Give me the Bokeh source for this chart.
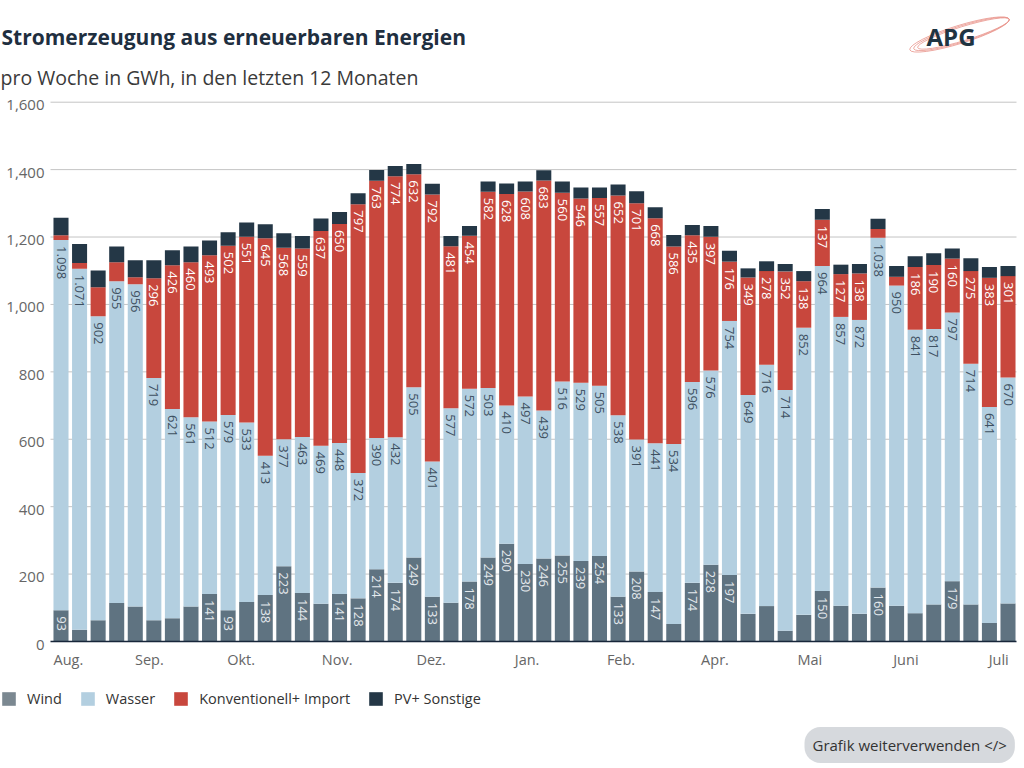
import numpy as np
from bokeh.plotting import figure
from bokeh.models import ColumnDataSource, Legend, LegendItem, Label
from bokeh.core.properties import value
from bokeh.embed import file_html
from bokeh.resources import INLINE

# ---------------- data ----------------
title_text = "Stromerzeugung aus erneuerbaren Energien"
subtitle_text = "pro Woche in GWh, in den letzten 12 Monaten"
series_names = ["Wind", "Wasser", "Konventionell+ Import", "PV+ Sonstige"]

wind = [93, 35, 63, 114, 104, 63, 69, 104, 141, 93, 117, 138, 223, 144, 112, 141, 128, 214, 174, 249,
        133, 115, 178, 249, 290, 230, 246, 255, 239, 254, 133, 208, 147, 52, 174, 228, 197, 82, 105, 32,
        79, 150, 106, 82, 160, 106, 84, 110, 179, 110, 55, 113]
wasser = [1098, 1071, 902, 955, 956, 719, 621, 561, 512, 579, 533, 413, 377, 463, 469, 448, 372, 390, 432, 505,
          401, 577, 572, 503, 410, 497, 439, 516, 529, 505, 538, 391, 441, 534, 596, 576, 754, 649, 716, 714,
          852, 964, 857, 872, 1038, 950, 841, 817, 797, 714, 641, 670]
konv = [14, 17, 86, 56, 21, 296, 426, 460, 493, 502, 551, 645, 568, 559, 637, 650, 797, 763, 774, 632,
        792, 481, 454, 582, 628, 608, 683, 560, 546, 557, 652, 701, 668, 586, 435, 397, 176, 349, 278, 352,
        138, 137, 127, 138, 26, 26, 186, 190, 160, 275, 383, 301]
pv = [52, 56, 50, 47, 50, 53, 45, 47, 44, 40, 42, 42, 43, 37, 37, 35, 33, 32, 31, 31,
      32, 30, 29, 31, 31, 30, 30, 34, 33, 31, 33, 36, 32, 34, 31, 32, 32, 27, 29, 22,
      30, 32, 28, 28, 30, 32, 32, 35, 30, 38, 32, 30]

month_labels = ["Aug.", "Sep.", "Okt.", "Nov.", "Dez.", "Jan.", "Feb.", "Apr.", "Mai", "Juni", "Juli"]
month_tick_at = [0.40, 4.76, 9.70, 14.87, 19.93, 25.10, 30.16, 35.22, 40.33, 45.50, 50.50]
y_ticks = [0, 200, 400, 600, 800, 1000, 1200, 1400, 1600]

# ---------------- style ----------------
FONT = "Open Sans"
C_WIND, C_WASSER, C_KONV, C_PV = "#5f7381", "#b3cfe0", "#c8473d", "#243746"
LEG_COLORS = ["#7b8891", "#b3cfe0", "#c8473d", "#243746"]
GRID = "#c4c4c4"
TICK_TXT = "#666666"

W, H = 1024, 768
n = len(wind)
# plot-area geometry (page pixels): first bar centre, last bar centre, zero line, 1600 line
X0_PX, XN_PX = 60.5, 1007.5
Y0_PX, Y1600_PX = 641.0, 101.7
PX = (XN_PX - X0_PX) / (n - 1)          # px per week
PY = (Y0_PX - Y1600_PX) / 1600.0        # px per GWh


def X(px):
    return (px - X0_PX) / PX


def Y(py):
    return (Y0_PX - py) / PY


p = figure(width=W, height=H, output_backend="svg", toolbar_location=None,
           x_range=(X(0), X(W)), y_range=(Y(H), Y(0)),
           min_border_left=0, min_border_right=0, min_border_top=0, min_border_bottom=0)
p.axis.visible = False
p.grid.visible = False
p.outline_line_color = None
p.background_fill_color = "white"
p.border_fill_color = "white"

x = list(range(n))
x_lo, x_hi = X(50), X(1016)

# gridlines (value axis)
g_ticks = [t for t in y_ticks if t > 0]
p.segment(x0=[x_lo] * len(g_ticks), x1=[x_hi] * len(g_ticks), y0=g_ticks, y1=g_ticks,
          line_color=GRID, line_width=1)

# bars
src = ColumnDataSource(dict(x=x, wind=wind, wasser=wasser, konv=konv, pv=pv))
p.vbar_stack(["wind", "wasser", "konv", "pv"], x="x", width=0.81, source=src,
             fill_color=[C_WIND, C_WASSER, C_KONV, C_PV], line_color=None)

# category axis line
p.segment(x0=[x_lo], x1=[x_hi], y0=[0], y1=[0], line_color="#17263a", line_width=1.5)

# value axis tick labels (sit a few px below their gridline)
lab_drop = 3 / PY
p.text(x=[X(44)] * len(y_ticks), y=[t - lab_drop for t in y_ticks], text=[f"{t:,}" for t in y_ticks],
       text_align="right", text_baseline="middle", text_color=TICK_TXT,
       text_font=value(FONT), text_font_size="15px")

# category axis tick labels
p.text(x=month_tick_at, y=[Y(649)] * len(month_tick_at), text=month_labels,
       text_align="center", text_baseline="top", text_color=TICK_TXT,
       text_font=value(FONT), text_font_size="14.5px")


def fmt(v):
    return f"{v:,}".replace(",", ".")


pad = 6 / PY


def add_labels(vals, tops, color, show):
    idx = [i for i in range(n) if show(vals[i])]
    s = ColumnDataSource(dict(x=idx, y=[tops[i] - pad for i in idx], t=[fmt(vals[i]) for i in idx]))
    p.text(x="x", y="y", text="t", source=s, angle=-np.pi / 2, text_align="left",
           text_baseline="middle", text_color=color, text_font=value(FONT), text_font_size="13px")


top_wind = [wind[i] for i in range(n)]
top_wasser = [wind[i] + wasser[i] for i in range(n)]
top_konv = [wind[i] + wasser[i] + konv[i] for i in range(n)]

add_labels(wind, top_wind, "#e4e9ed", lambda v: v >= 120 or v == 93)
add_labels(wasser, top_wasser, "#3e5061", lambda v: True)
add_labels(konv, top_konv, "#ffffff", lambda v: v >= 100)

# legend via zero-height renderers (own swatch colours)
items = []
for name, col in zip(series_names, LEG_COLORS):
    r = p.vbar(x=[0], top=[0], bottom=[0], width=0.8, fill_color=col, line_color=None)
    items.append(LegendItem(label=name, renderers=[r]))
legend = Legend(items=items, orientation="horizontal", location=(0, H - 708),
                glyph_width=17, glyph_height=17, label_standoff=10, spacing=17,
                padding=0, margin=0, border_line_color=None, background_fill_alpha=0,
                label_text_font=FONT, label_text_font_size="14.5px", label_text_color="#333333",
                label_height=17)
p.add_layout(legend, "center")

# title / subtitle
p.add_layout(Label(x=1, y=H - 36, x_units="screen", y_units="screen",
                   text=title_text, text_font=FONT, text_font_style="bold", text_font_size="21px",
                   text_color="#1f2f3f", text_baseline="alphabetic"))
p.add_layout(Label(x=0, y=H - 76.5, x_units="screen", y_units="screen",
                   text=subtitle_text, text_font=FONT, text_font_size="19.5px",
                   text_color="#3a3a3a", text_baseline="alphabetic"))

# button
p.add_layout(Label(x=804, y=H - 744.5, x_units="screen", y_units="screen",
                   text="Grafik weiterverwenden </>", text_font=FONT, text_font_size="15px",
                   text_color="#333333", text_baseline="middle", text_align="left",
                   background_fill_color="#d6d9dd", border_radius=16, padding=(8, 8)))

# logo
p.ellipse(x=[X(959), X(961), X(963)], y=[Y(34), Y(33.5), Y(33)],
          width=[104, 100, 96], height=[18, 16, 14], width_units="screen", height_units="screen",
          angle=0.30, fill_color=None, line_color="#e8938a", line_width=0.8)
p.add_layout(Label(x=926, y=H - 35.5, x_units="screen", y_units="middle" if False else "screen",
                   text="APG", text_font=FONT, text_font_style="bold", text_font_size="24px",
                   text_color="#1e3442", text_baseline="middle"))

open("out.html", "w").write(file_html(p, INLINE))
